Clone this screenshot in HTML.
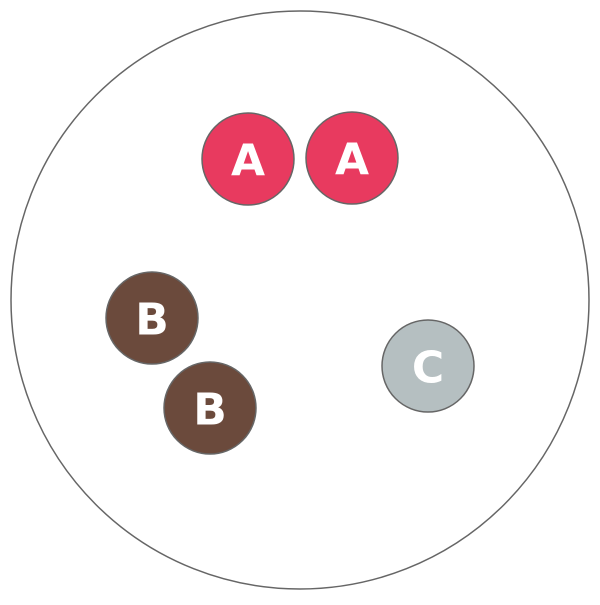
<!DOCTYPE html>
<html><head><style>html,body{margin:0;padding:0;background:#fff}</style></head>
<body>
<svg width="600" height="600" viewBox="0 0 600 600" xmlns="http://www.w3.org/2000/svg">
<circle cx="300" cy="300" r="289" fill="#fff" stroke="#666" stroke-width="1.5"/>
<g stroke="#666" stroke-width="1.5" font-family="DejaVu Sans, sans-serif" font-weight="bold" font-size="44" text-anchor="middle" dominant-baseline="central">
<circle cx="248" cy="159" r="46" fill="#e83a5f"/>
<circle cx="352" cy="158" r="46" fill="#e83a5f"/>
<circle cx="152" cy="318" r="46" fill="#6b4a3c"/>
<circle cx="210" cy="408" r="46" fill="#6b4a3c"/>
<circle cx="428" cy="366" r="46" fill="#b5bfc1"/>
<g stroke="none" fill="#fff">
<text x="248" y="161">A</text>
<text x="352" y="160">A</text>
<text x="152" y="320">B</text>
<text x="210" y="410">B</text>
<text x="428" y="368">C</text>
</g>
</g>
</svg>
</body></html>
